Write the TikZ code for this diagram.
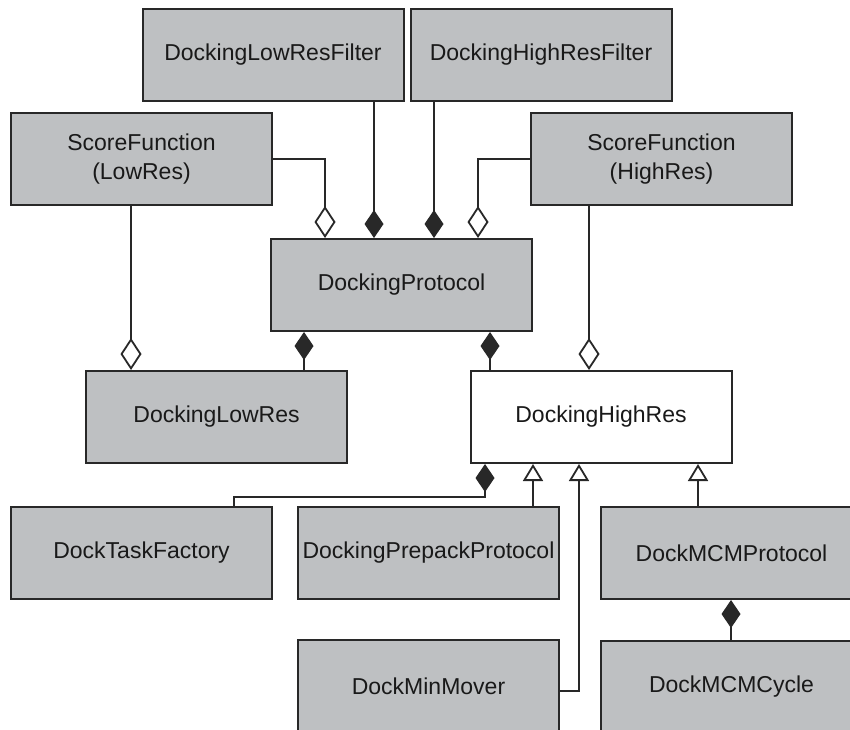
\documentclass[tikz,border=0pt]{standalone}
\usepackage{fontspec}
\setmainfont{Liberation Sans}
\usetikzlibrary{arrows.meta}
\definecolor{boxgray}{RGB}{190,192,194}
\definecolor{ink}{RGB}{40,40,40}
\begin{document}
\begin{tikzpicture}[x=1pt,y=-1pt,
  cls/.style={draw=ink, line width=2pt, fill=boxgray, minimum width=261pt,
    minimum height=92pt, inner sep=0pt, font=\fontsize{23}{29}\selectfont,
    align=center, text=black!90},
  wcls/.style={cls, fill=white},
  link/.style={line width=1.8pt, draw=ink},
  comp/.style={link, -{Diamond[length=28pt,width=19pt,fill=ink]}},
  aggr/.style={link, -{Diamond[open,length=32pt,width=21pt,fill=white]}},
  inh/.style={link, -{Triangle[open,length=17pt,width=20pt,fill=white]}},
]
\useasboundingbox (0,0) rectangle (850,729);
\clip (0,0) rectangle (850,729);
\fill[white] (0,0) rectangle (850,729);

% class boxes
\node[cls] (lrf) at (273,54.5) {DockingLowResFilter};
\node[cls] (hrf) at (541,54.5) {DockingHighResFilter};
\node[cls] (sfl) at (141.5,159) {ScoreFunction\\(LowRes)};
\node[cls] (sfh) at (661.5,159) {ScoreFunction\\(HighRes)};
\node[cls] (dp) at (401.5,285) {DockingProtocol};
\node[cls] (dlr) at (216.5,417) {DockingLowRes};
\node[wcls] (dhr) at (601,417) {DockingHighRes};
\node[cls] (dtf) at (141.5,553) {DockTaskFactory};
\node[cls] (dpp) at (428.5,553) {DockingPrepackProtocol};
\node[cls] (mcm) at (731.5,553) {DockMCMProtocol};
\node[cls] (dmm) at (428.5,686) {DockMinMover};
\node[cls] (cyc) at (731.5,687) {DockMCMCycle};

% helper coordinates
\coordinate (x131) at (131,0);
\coordinate (x304) at (304,0);
\coordinate (x325) at (325,0);
\coordinate (x374) at (374,0);
\coordinate (x434) at (434,0);
\coordinate (x478) at (478,0);
\coordinate (x490) at (490,0);
\coordinate (x533) at (533,0);
\coordinate (x579) at (579,0);
\coordinate (x589) at (589,0);
\coordinate (x698) at (698,0);
\coordinate (x731) at (731,0);
\coordinate (j1) at (234,497);
\coordinate (j2) at (485,497);

% connectors
\draw[comp] (lrf.south -| x374) -- (dp.north -| x374);
\draw[comp] (hrf.south -| x434) -- (dp.north -| x434);
\draw[aggr] (sfl.east) -| (dp.north -| x325);
\draw[aggr] (sfh.west) -| (dp.north -| x478);
\draw[aggr] (sfl.south -| x131) -- (dlr.north -| x131);
\draw[comp] (dlr.north -| x304) -- (dp.south -| x304);
\draw[comp] (dhr.north -| x490) -- (dp.south -| x490);
\draw[aggr] (sfh.south -| x589) -- (dhr.north -| x589);
\draw[comp] (dtf.north -| j1) -- (j1) -- (j2) -- (dhr.south -| j2);
\draw[inh] (dpp.north -| x533) -- (dhr.south -| x533);
\draw[inh] ([yshift=-5pt]dmm.east) -| (dhr.south -| x579);
\draw[inh] (mcm.north -| x698) -- (dhr.south -| x698);
\draw[comp] (cyc.north -| x731) -- (mcm.south -| x731);
\end{tikzpicture}
\end{document}
